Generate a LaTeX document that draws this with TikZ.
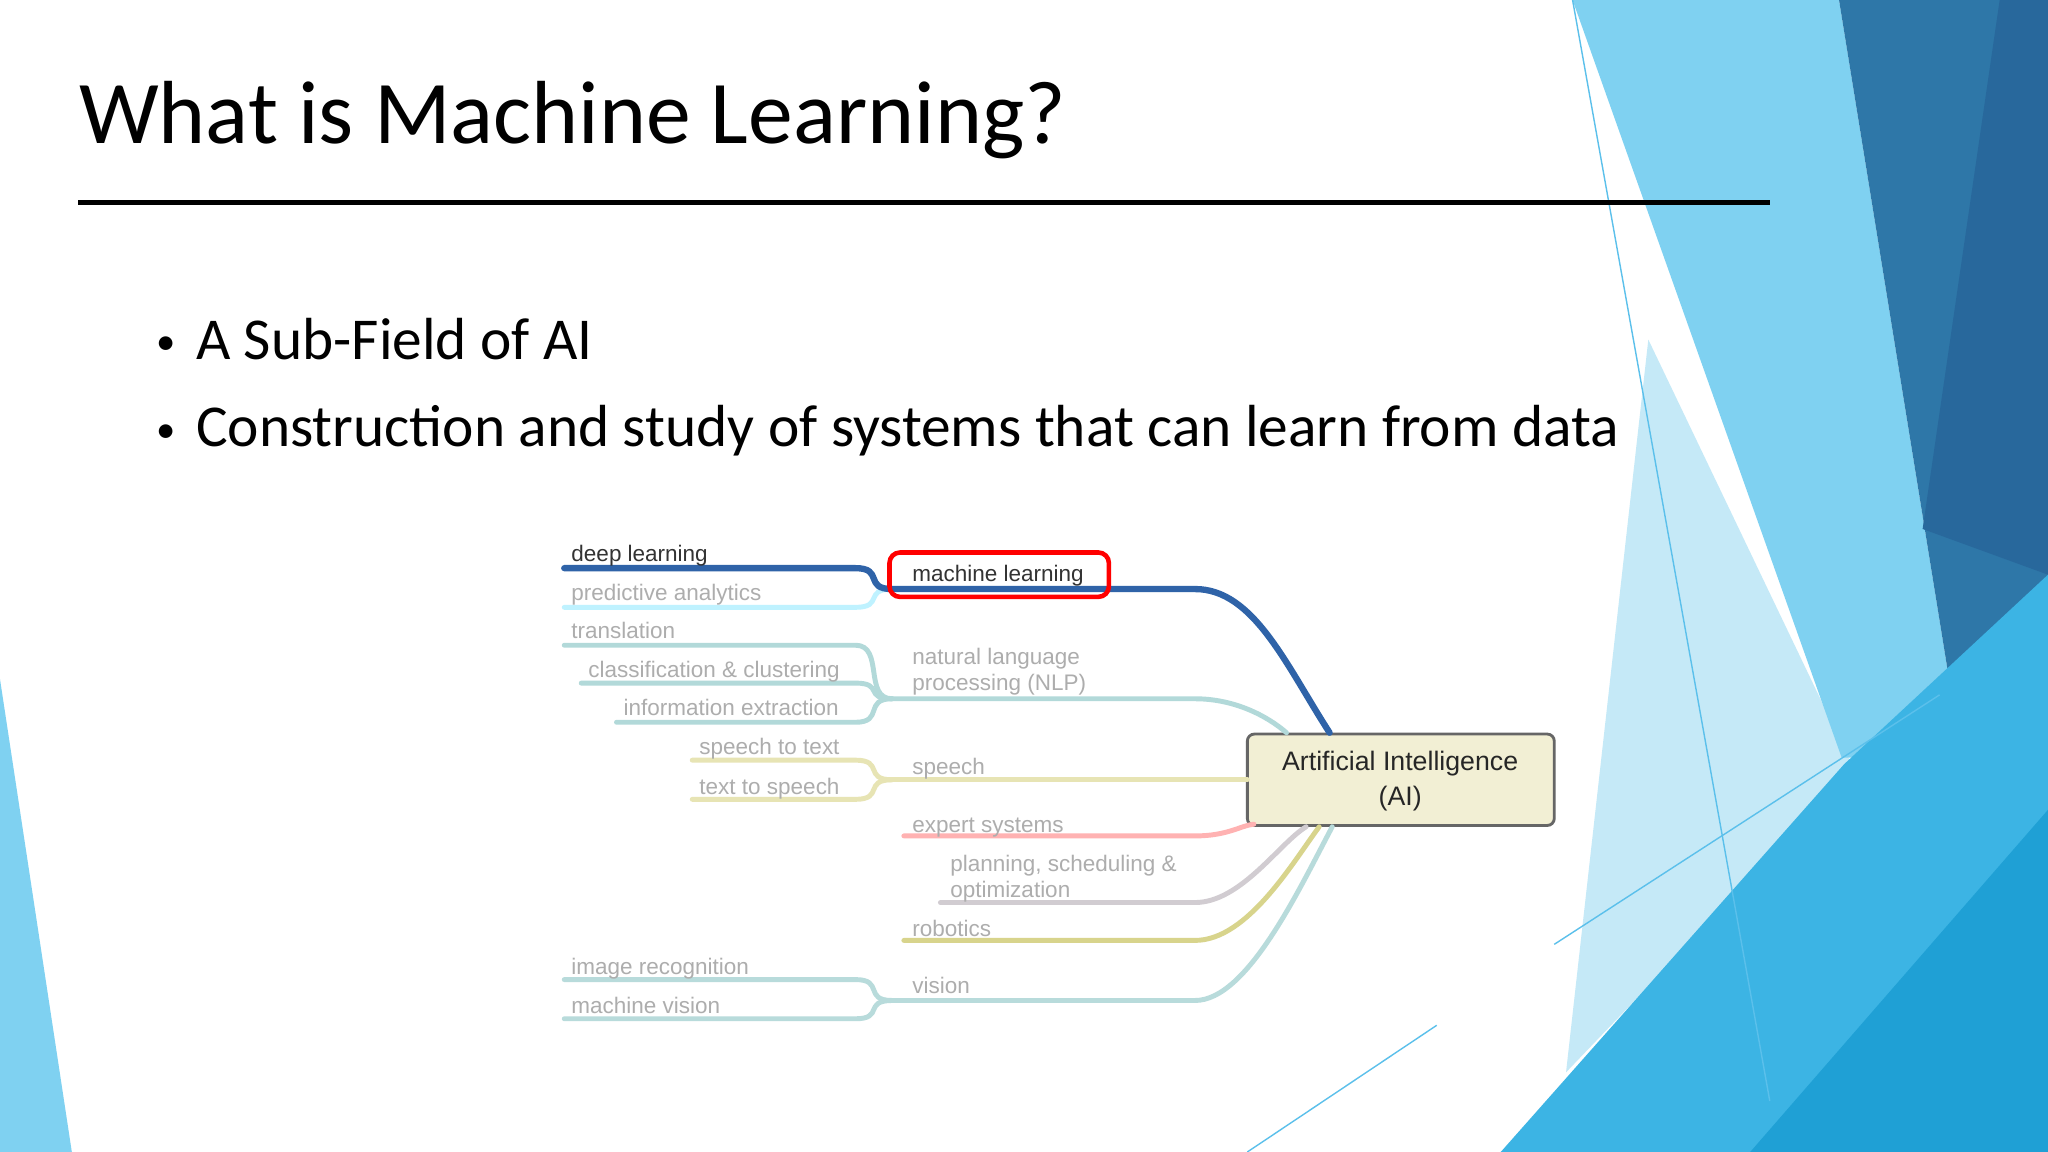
\documentclass[tikz,border=0pt]{standalone}
\usepackage{fontspec}
\setmainfont{Carlito}
\newfontfamily\mapfont{Liberation Sans}
\begin{document}
\begin{tikzpicture}[x=0.013061cm,y=-0.013061cm,
  lbl/.style={anchor=base west,inner sep=0pt,font=\mapfont\fontsize{6.4}{7}\selectfont,text=black!32},
  dk/.style={text=black!80},
  br/.style={line width=1.4pt,line cap=round}]
\useasboundingbox (0,0) rectangle (1568,882);
\fill[white] (0,0) rectangle (1568,882);
% background decoration
\fill[color={rgb,255:red,197;green,233;blue,247}] (1262,260) -- (1420,590) -- (1199,821) -- cycle;
\fill[color={rgb,255:red,127;green,209;blue,241}] (1204,0) -- (1408,0) -- (1502,580) -- (1410,580) -- cycle;
\fill[color={rgb,255:red,46;green,119;blue,168}] (1408,0) -- (1568,0) -- (1568,461) -- (1502,580) -- cycle;
\fill[color={rgb,255:red,40;green,104;blue,156}] (1531,0) -- (1568,0) -- (1568,440) -- (1472,405) -- cycle;
\fill[color={rgb,255:red,60;green,180;blue,228}] (1149,882) -- (1412,585) -- (1568,440) -- (1568,882) -- cycle;
\fill[color={rgb,255:red,31;green,160;blue,213}] (1340,882) -- (1568,620) -- (1568,882) -- cycle;
\fill[color={rgb,255:red,127;green,209;blue,241}] (0,520) -- (55,882) -- (0,882) -- cycle;
\draw[color={rgb,255:red,91;green,192;blue,235},line width=0.4pt] (1204,0) -- (1355,843);
\draw[color={rgb,255:red,91;green,192;blue,235},line width=0.4pt] (1190,723) -- (1485,532);
\draw[color={rgb,255:red,91;green,192;blue,235},line width=0.4pt] (955,882) -- (1100,785);
% title
\node[anchor=base west,inner sep=0pt,font=\fontsize{25.5}{30}\selectfont] (title) at (60,110) {What is Machine Learning?};
\draw[line width=1.6pt] (60,155) -- (1355,155);
\node[anchor=base west,inner sep=0pt,font=\fontsize{16.9}{20}\selectfont] (b1) at (119,275) {{\fontsize{11}{12}\selectfont\raisebox{0.12em}{\textbullet}}\hspace{0.35em}A Sub-Field of AI};
\node[anchor=base west,inner sep=0pt,font=\fontsize{16.9}{20}\selectfont] (b2) at (119,342) {{\fontsize{11}{12}\selectfont\raisebox{0.12em}{\textbullet}}\hspace{0.35em}Construction and study of systems that can learn from data};
% AI box
\draw[draw=black!60,line width=0.8pt,rounded corners=2pt,fill={rgb,255:red,242;green,239;blue,212}] (955,562) rectangle (1190,632);
\node[font=\mapfont\fontsize{7.6}{9.8}\selectfont,align=center,text=black!85] (ai) at (1072,598) {Artificial Intelligence\\(AI)};
\coordinate (aiT1) at (1018,561);
\coordinate (aiT2) at (985,561);
\coordinate (aiL) at (955,597);
% branches
\def\brc#1#2#3#4#5#6{\draw[br,color=#1] (#2,#3) -- (#4,#3) .. controls (#4+22,#3) and (#5-22,#6) .. (#5,#6);}
\brc{blue!20!cyan!25}{432}{465}{655}{683}{451}
\draw[br,color={rgb,255:red,47;green,99;blue,168},line width=1.8pt] (683,451) -- (915,451) .. controls (960,451) and (985,510) .. (aiT1);
\brc{teal!30}{432}{494}{655}{683}{535}
\brc{teal!30}{445}{523}{655}{683}{535}
\brc{teal!30}{472}{553}{655}{683}{535}
\draw[br,color=teal!30] (683,535) -- (915,535) .. controls (945,535) and (970,548) .. (aiT2);
\brc{olive!22}{530}{582}{655}{683}{597}
\brc{olive!22}{530}{612}{655}{683}{597}
\draw[br,color=olive!22] (683,597) -- (aiL);
\draw[br,color=red!30] (692,640) -- (915,640) .. controls (940,640) and (950,632) .. (960,631);
\draw[br,color=violet!20!black!20] (720,691) -- (915,691) .. controls (950,691) and (980,645) .. (1000,633);
\draw[br,color=olive!35] (692,720) -- (915,720) .. controls (955,720) and (990,660) .. (1010,633);
\brc{teal!28}{432}{750}{655}{683}{766}
\brc{teal!28}{432}{780}{655}{683}{766}
\draw[br,color=teal!28] (683,766) -- (915,766) .. controls (955,766) and (995,680) .. (1020,633);
\draw[br,color={rgb,255:red,47;green,99;blue,168},line width=1.8pt] (432,435) -- (655,435) .. controls (677,435) and (661,451) .. (683,451);
% labels
\node[lbl,dk] (dl) at (437,430) {deep learning};
\node[lbl] (pa) at (437,460) {predictive analytics};
\node[lbl,dk] (ml) at (698,445) {machine learning};
\draw[red,line width=1.3pt,rounded corners=3pt] (681,423) rectangle (849,457);
\node[lbl] (tr) at (437,489) {translation};
\node[lbl] (cc) at (450,519) {classification \& clustering};
\node[lbl] (ie) at (477,548) {information extraction};
\node[lbl] (nlp1) at (698,509) {natural language};
\node[lbl] (nlp2) at (698,529) {processing (NLP)};
\node[lbl] (st) at (535,578) {speech to text};
\node[lbl] (ts) at (535,608) {text to speech};
\node[lbl] (sp) at (698,593) {speech};
\node[lbl] (es) at (698,637) {expert systems};
\node[lbl] (pl1) at (727,667) {planning, scheduling \&};
\node[lbl] (pl2) at (727,687) {optimization};
\node[lbl] (rb) at (698,717) {robotics};
\node[lbl] (ir) at (437,746) {image recognition};
\node[lbl] (mv) at (437,776) {machine vision};
\node[lbl] (vi) at (698,761) {vision};
\end{tikzpicture}
\end{document}
